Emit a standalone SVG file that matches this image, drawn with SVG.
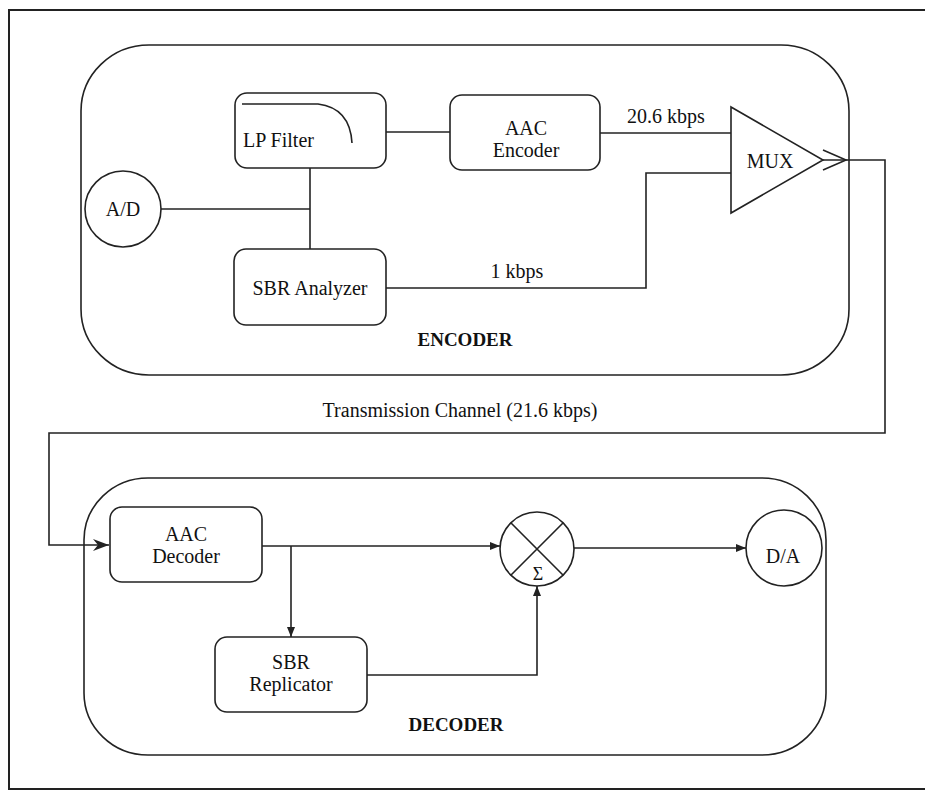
<svg xmlns="http://www.w3.org/2000/svg" width="925" height="793" viewBox="0 0 925 793">
<style>
.box{fill:#fff;stroke:#222;stroke-width:1.6}
.ln{fill:none;stroke:#222;stroke-width:1.6}
.t{font-family:"Liberation Serif","Times New Roman",serif;font-size:20px;fill:#111;text-anchor:middle}
.b{font-family:"Liberation Serif","Times New Roman",serif;font-size:19px;font-weight:bold;fill:#111;text-anchor:middle}
</style>
<defs>
<marker id="ah" viewBox="0 0 10 10" refX="10" refY="5" markerWidth="10" markerHeight="10" markerUnits="userSpaceOnUse" orient="auto">
<path d="M0,1 L10,5 L0,9 z" fill="#222"/>
</marker>
<marker id="ahb" viewBox="0 0 16 12" refX="16" refY="6" markerWidth="16" markerHeight="12" markerUnits="userSpaceOnUse" orient="auto">
<path d="M0,0 L16,6 L0,12 L5,6 z" fill="#222"/>
</marker>
</defs>
<rect width="925" height="793" fill="#fff"/>
<rect id="frame" x="9" y="10" width="930" height="779" fill="none" stroke="#222" stroke-width="2"/>

<g id="encoder">
<rect class="box" x="81" y="45" width="768" height="330" rx="68" ry="66"/>
<text class="b" x="465" y="346">ENCODER</text>
</g>
<g id="decoder">
<rect class="box" x="84" y="478" width="742" height="277" rx="64" ry="62"/>
<text class="b" x="456" y="731">DECODER</text>
</g>

<g id="connectors">
<path class="ln" d="M161,209 H310"/>
<path class="ln" d="M310,168 V249"/>
<path class="ln" d="M386,132 H450"/>
<path class="ln" d="M600,133 H731"/>
<path class="ln" d="M386,288 H646 V173 H731"/>
<path class="ln" d="M823,150 L846,160 L823,170"/>
<path class="ln" d="M823,160 H885 V433 H49 V545 H109" marker-end="url(#ahb)"/>
<path class="ln" d="M262,546 H500" marker-end="url(#ah)"/>
<path class="ln" d="M291,546 V637" marker-end="url(#ah)"/>
<path class="ln" d="M367,675 H537 V586" marker-end="url(#ah)"/>
<path class="ln" d="M574,548 H746" marker-end="url(#ah)"/>
<text class="t" x="627" y="123" style="text-anchor:start">20.6 kbps</text>
<text class="t" x="517" y="278">1 kbps</text>
<text class="t" x="460" y="417">Transmission Channel (21.6 kbps)</text>
</g>

<g id="ad">
<circle class="box" cx="123" cy="209" r="38"/>
<text class="t" x="123" y="216">A/D</text>
</g>
<g id="lpfilter">
<rect class="box" x="235" y="93" width="151" height="75" rx="12"/>
<path class="ln" d="M242,104 H318 Q350,108 352,143"/>
<text class="t" x="243" y="147" style="text-anchor:start">LP Filter</text>
</g>
<g id="aacenc">
<rect class="box" x="450" y="95" width="150" height="75" rx="12"/>
<text class="t" x="526" y="135">AAC</text>
<text class="t" x="526" y="157">Encoder</text>
</g>
<g id="sbranalyzer">
<rect class="box" x="234" y="249" width="152" height="76" rx="12"/>
<text class="t" x="310" y="295">SBR Analyzer</text>
</g>
<g id="mux">
<path class="box" d="M731,107 L823,160 L731,213 z"/>
<text class="t" x="770" y="168">MUX</text>
</g>

<g id="aacdec">
<rect class="box" x="110" y="507" width="152" height="75" rx="12"/>
<text class="t" x="186" y="541">AAC</text>
<text class="t" x="186" y="563">Decoder</text>
</g>
<g id="sbrrep">
<rect class="box" x="215" y="637" width="152" height="75" rx="12"/>
<text class="t" x="291" y="669">SBR</text>
<text class="t" x="291" y="691">Replicator</text>
</g>
<g id="sum">
<circle class="box" cx="537" cy="549" r="37"/>
<path class="ln" d="M510.8,522.8 L563.2,575.2 M563.2,522.8 L510.8,575.2"/>
<text class="t" x="538" y="580" style="font-size:18px">Σ</text>
</g>
<g id="da">
<circle class="box" cx="784" cy="548" r="38"/>
<text class="t" x="783" y="563">D/A</text>
</g>
</svg>
